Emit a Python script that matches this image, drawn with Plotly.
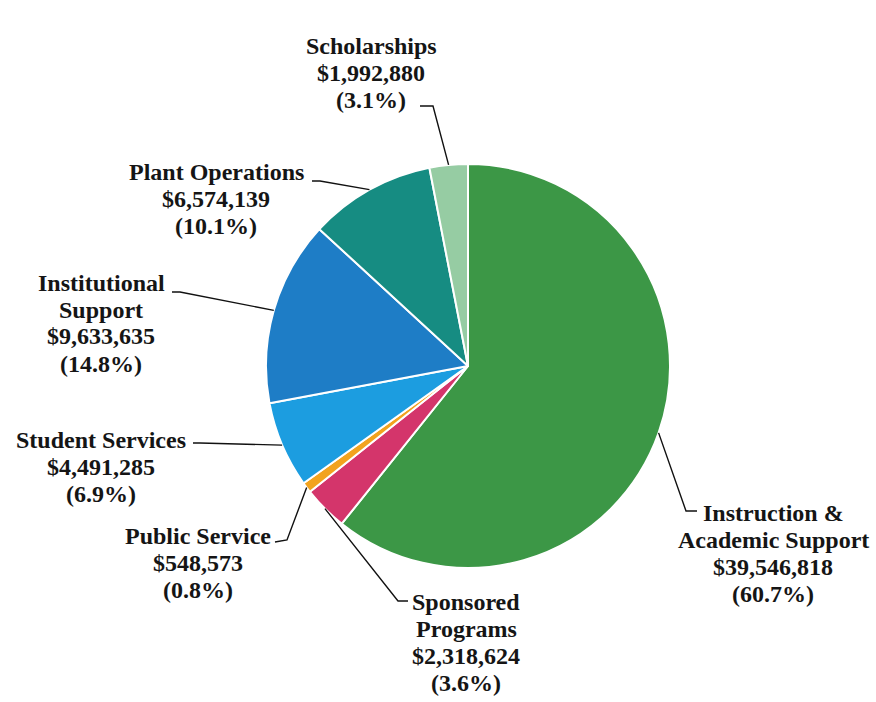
import math
import plotly.graph_objects as go

# slices, clockwise from 12 o'clock
names = ['Instruction &amp;<br>Academic Support', 'Sponsored<br>Programs', 'Public Service',
         'Student Services', 'Institutional<br>Support', 'Plant Operations', 'Scholarships']
amounts = [39546818, 2318624, 548573, 4491285, 9633635, 6574139, 1992880]
colors = ['#3c9746', '#d4356b', '#f2a31e', '#1c9de0', '#1e7dc6', '#168c82', '#96cca3']

W, H = 876, 702
CX, CY, R = 468, 366, 202
LINE_H = 27

# label layout in pixels: text centre, then elbow and end of leader line
label_pos = [(773, 553), (466, 642), (198, 563), (101, 467), (101, 323), (216, 199), (371, 73)]
elbows = [(686, 511), (398, 601), (287, 540), (200, 443), (180, 292), (320, 181), (433, 106)]
ends = [(697, 511), (408, 601), (275, 542), (193, 443), (172, 292), (312, 181), (420, 106)]


def px(x, y):
    return x / W, 1 - y / H


total = sum(amounts)
fig = go.Figure()
fig.add_trace(go.Pie(
    values=amounts, labels=[n.replace('<br>', ' ') for n in names],
    sort=False, direction='clockwise', rotation=0,
    marker=dict(colors=colors, line=dict(color='white', width=2)),
    textinfo='none', hoverinfo='label+value+percent', showlegend=False,
    domain=dict(x=[(CX - R) / W, (CX + R) / W], y=[1 - (CY + R) / H, 1 - (CY - R) / H]),
))

cum = 0
for name, amt, lp, el, en in zip(names, amounts, label_pos, elbows, ends):
    mid = (cum + amt / 2) / total * 2 * math.pi
    cum += amt
    ax, ay = CX + R * math.sin(mid), CY - R * math.cos(mid)
    pts = [px(ax, ay), px(*el), px(*en)]
    path = 'M {} {} L {} {} L {} {}'.format(*[c for p in pts for c in p])
    fig.add_shape(type='path', path=path, xref='paper', yref='paper',
                  line=dict(color='#111111', width=1.4))
    lines = name.split('<br>') + [f'${amt:,}', f'({amt / total * 100:.1f}%)']
    for i, t in enumerate(lines):
        x, y = px(lp[0], lp[1] + (i - (len(lines) - 1) / 2) * LINE_H)
        fig.add_annotation(
            x=x, y=y, xref='paper', yref='paper', xanchor='center', yanchor='middle',
            text=f'<b>{t}</b>', showarrow=False,
            font=dict(family='Liberation Serif', size=24, color='#151515'),
        )

fig.update_layout(
    width=W, height=H, margin=dict(l=0, r=0, t=0, b=0),
    paper_bgcolor='white', plot_bgcolor='white',
)
fig.write_html('out.html', config={'displayModeBar': False},
               post_script="document.body.style.margin='0px';")
